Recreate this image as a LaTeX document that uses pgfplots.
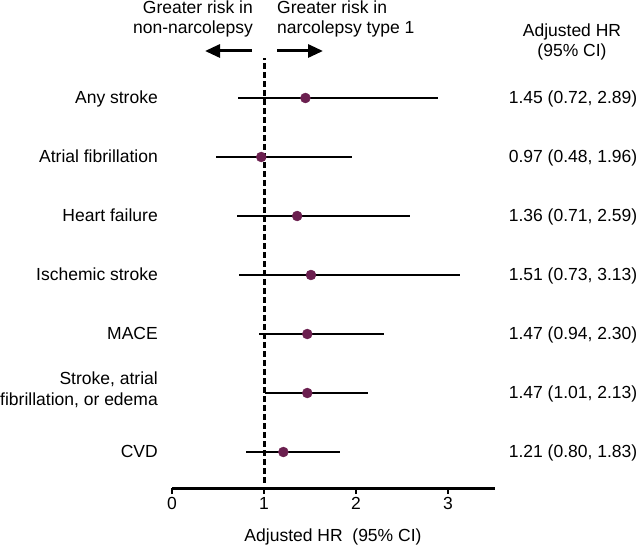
\documentclass[border=0pt]{standalone}
\usepackage{pgfplots}
\pgfplotsset{compat=1.18}
\usepackage{pgfplotstable}
\usetikzlibrary{arrows.meta}
\usepackage{fontspec}
\setmainfont{Liberation Sans}
\definecolor{dotc}{RGB}{107,31,79}
\newcommand{\ff}{\fontsize{17.5bp}{20bp}\selectfont}
\pgfplotstableread{
y hr lo hi
7 1.45 0.72 2.89
6 0.97 0.48 1.96
5 1.36 0.71 2.59
4 1.51 0.73 3.13
3 1.47 0.94 2.30
2 1.47 1.01 2.13
1 1.21 0.80 1.83
}\data
\begin{document}
\begin{tikzpicture}
\begin{axis}[name=ax, at={(0,0)}, anchor=south west,
  scale only axis, width=323bp, height=437.2bp,
  xmin=0, xmax=3.51, ymin=0.39, ymax=7.8,
  axis x line=bottom, axis y line=none,
  x axis line style={-, line width=3bp, black},
  xtick={0,1,2,3}, tick align=outside, major tick length=6bp,
  every tick/.style={black, line width=2.8bp},
  ytick=\empty,
  tick label style={font=\ff},
  /pgf/number format/assume math mode=true,
  clip=false]
\addplot[line width=3bp, dash pattern=on 5.5bp off 3.5bp] coordinates {(1,0.475) (1,7.68)};
\addplot[only marks, mark=none, error bars/.cd, x dir=both, x explicit, error mark=none,
  error bar style={line width=2.2bp, black}]
  table[x=hr, y=y, x error plus expr=\thisrow{hi}-\thisrow{hr}, x error minus expr=\thisrow{hr}-\thisrow{lo}] {\data};
\addplot[only marks, mark=*, mark size=5bp, mark options={fill=dotc, draw=dotc}] table[x=hr, y=y] {\data};
\end{axis}
\begin{scope}[shift={(ax.south west)}, xshift=-172bp, yshift=488bp, x=1bp, y=-1bp]
\pgfresetboundingbox
\path[use as bounding box] (0,0) rectangle (641,545);
\tikzset{every node/.style={font=\ff, inner sep=0pt}}
% left labels
\node[anchor=base east] at (158,104) {Any stroke};
\node[anchor=base east] at (158,163) {Atrial fibrillation};
\node[anchor=base east] at (158,222) {Heart failure};
\node[anchor=base east] at (158,281) {Ischemic stroke};
\node[anchor=base east] at (158,340) {MACE};
\node[anchor=base east] at (158,385) {Stroke, atrial};
\node[anchor=base east] at (158,406) {fibrillation, or edema};
\node[anchor=base east] at (158,458) {CVD};
% right values
\node[anchor=base] at (573,104) {1.45 (0.72, 2.89)};
\node[anchor=base] at (573,163) {0.97 (0.48, 1.96)};
\node[anchor=base] at (573,222) {1.36 (0.71, 2.59)};
\node[anchor=base] at (573,281) {1.51 (0.73, 3.13)};
\node[anchor=base] at (573,340) {1.47 (0.94, 2.30)};
\node[anchor=base] at (573,399) {1.47 (1.01, 2.13)};
\node[anchor=base] at (573,458) {1.21 (0.80, 1.83)};
% header
\node[anchor=base] at (572,37) {Adjusted HR};
\node[anchor=base] at (572,57) {(95\% CI)};
% top annotations
\node[anchor=base east] at (253,14) {Greater risk in};
\node[anchor=base east] at (253,34) {non-narcolepsy};
\node[anchor=base west] at (277,14) {Greater risk in};
\node[anchor=base west] at (277,34) {narcolepsy type 1};
\draw[line width=3bp, -{Triangle[length=15bp, width=13bp]}] (252,51) -- (205,51);
\draw[line width=3bp, -{Triangle[length=15bp, width=13bp]}] (277,51) -- (323,51);
% x label
\node[anchor=base] at (333,542) {Adjusted HR\ \ (95\% CI)};
\end{scope}
\end{tikzpicture}
\end{document}
